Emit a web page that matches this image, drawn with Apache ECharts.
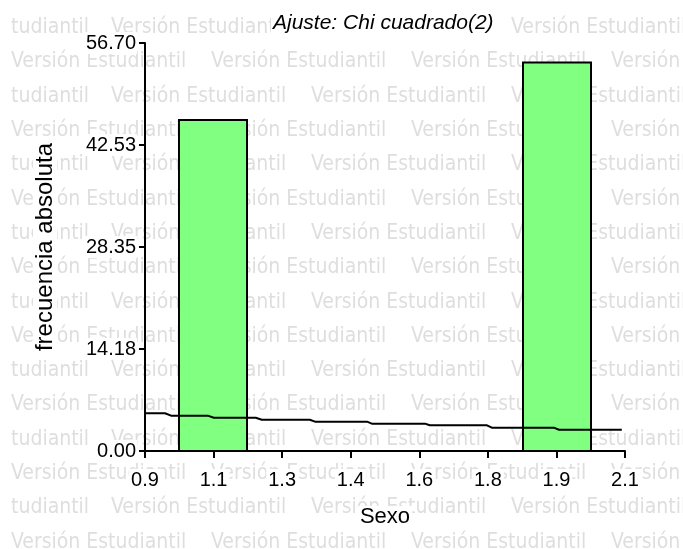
<!DOCTYPE html>
<html>
<head>
<meta charset="utf-8">
<script src="https://cdn.jsdelivr.net/npm/echarts@6/dist/echarts.min.js"></script>
<style>html,body{margin:0;padding:0;background:#fff}#c{width:683px;height:549px}</style>
</head>
<body>
<div id="c"></div>
<script>
// ---- data ----
const xTickLabels = ['0.9', '1.1', '1.3', '1.4', '1.6', '1.8', '1.9', '2.1'];
const yTickLabels = ['0.00', '14.18', '28.35', '42.53', '56.70'];
const binLower = [0.985, 1.845];
const binUpper = [1.155, 2.015];
const frecuencias = [46, 54];
const ajusteX = [0.90, 0.95, 0.965, 1.057, 1.072, 1.177, 1.192, 1.312, 1.325, 1.455, 1.467, 1.600, 1.612, 1.755, 1.767, 1.922, 1.935, 2.092];
const ajusteY = [5.24, 5.24, 4.91, 4.91, 4.63, 4.63, 4.35, 4.35, 4.08, 4.08, 3.80, 3.80, 3.57, 3.57, 3.24, 3.24, 2.96, 2.96];
const xMin = 0.9, xMax = 2.1, yMax = 56.70;
const titulo = 'Ajuste: Chi cuadrado(2)';
const marcaAgua = 'Versión Estudiantil';
const marcaAguaCorte = 'tudiantil';

const xStep = (xMax - xMin) / (xTickLabels.length - 1);
const xTickValues = xTickLabels.map((_, i) => xMin + i * xStep);
const yStep = yMax / (yTickLabels.length - 1);

// watermark
const wm = [];
const wmFont = '21px "DejaVu Sans Condensed", "DejaVu Sans"';
for (let k = -2; k <= 14; k++) {
  const y = 62 + 34.3 * k;
  const odd = (k % 2 !== 0);
  if (odd) {
    wm.push({ type: 'text', silent: true, z: -10, x: 11, y: y,
      style: { text: marcaAguaCorte, fill: '#dedede', font: wmFont, verticalAlign: 'middle', align: 'left' } });
  }
  const off = odd ? 111 : 11;
  for (let j = 0; j <= 3; j++) {
    wm.push({
      type: 'text', silent: true, z: -10,
      x: off + 200 * j, y: y,
      style: { text: marcaAgua, fill: '#dedede', font: wmFont, verticalAlign: 'middle', align: 'left' }
    });
  }
}

const chart = echarts.init(document.getElementById('c'), null, { renderer: 'canvas' });
const txtFont = 'Liberation Sans';
chart.setOption({
  animation: false,
  backgroundColor: '#fff',
  graphic: wm,
  title: {
    text: titulo, left: 271, top: 12, padding: [1, 2],
    backgroundColor: '#fff',
    textStyle: { fontFamily: txtFont, fontStyle: 'italic', fontWeight: 'normal', fontSize: 21, color: '#000' }
  },
  grid: { left: 145, right: 58, top: 43, bottom: 98, containLabel: false },
  xAxis: {
    type: 'value', min: xMin, max: xMax,
    name: 'Sexo', nameLocation: 'middle', nameGap: 55,
    nameTextStyle: { fontFamily: txtFont, fontSize: 22, color: '#000', backgroundColor: '#fff', padding: [0, 2] },
    axisLine: { show: true, lineStyle: { color: '#000', width: 2 } },
    axisTick: { show: true, length: 7, customValues: xTickValues, lineStyle: { color: '#000', width: 2 } },
    axisLabel: {
      customValues: xTickValues, margin: 18,
      fontFamily: txtFont, fontSize: 20, color: '#000', backgroundColor: '#fff', padding: [1, 2],
      formatter: v => xTickLabels[Math.round((v - xMin) / xStep)]
    },
    splitLine: { show: false }
  },
  yAxis: {
    type: 'value', min: 0, max: yMax, interval: yStep,
    name: 'frecuencia absoluta', nameLocation: 'middle', nameGap: 88,
    nameTextStyle: { fontFamily: txtFont, fontSize: 24, color: '#000', backgroundColor: '#fff', padding: [0, 1] },
    axisLine: { show: true, lineStyle: { color: '#000', width: 2 } },
    axisTick: { show: true, length: 6, lineStyle: { color: '#000', width: 2 } },
    axisLabel: {
      margin: 8, fontFamily: txtFont, fontSize: 20, color: '#000', backgroundColor: '#fff', padding: [1, 1],
      formatter: v => yTickLabels[Math.round(v / yStep)]
    },
    splitLine: { show: false }
  },
  series: [
    {
      type: 'custom', z: 2,
      data: frecuencias.map((f, i) => [binLower[i], binUpper[i], f]),
      encode: { x: [0, 1], y: 2 },
      renderItem: function (params, api) {
        const p0 = api.coord([api.value(0), 0]);
        const p1 = api.coord([api.value(1), api.value(2)]);
        return {
          type: 'rect',
          shape: { x: p0[0], y: p1[1], width: p1[0] - p0[0], height: p0[1] - p1[1] },
          style: { fill: '#80ff80', stroke: '#000', lineWidth: 2 }
        };
      }
    },
    {
      type: 'line', z: 5, showSymbol: false, symbol: 'none',
      data: ajusteX.map((x, i) => [x, ajusteY[i]]),
      lineStyle: { color: '#000', width: 2 }
    }
  ]
});
</script>
</body>
</html>
